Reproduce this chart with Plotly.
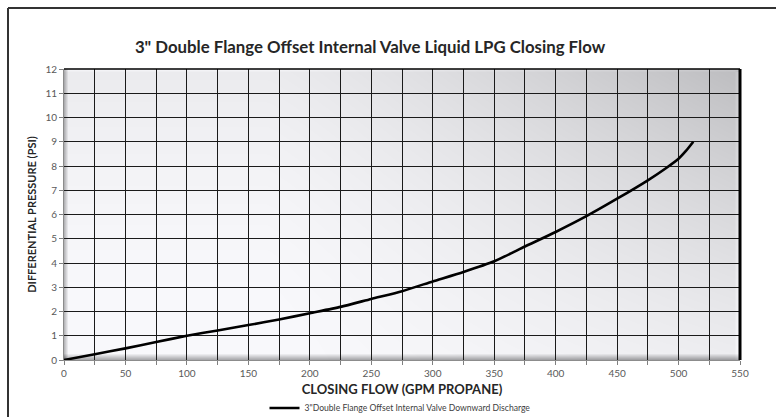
import base64, zlib, struct
import plotly.graph_objects as go

# ---- data ----
flow_gpm = [0, 25, 50, 75, 100, 125, 150, 175, 200, 225, 250, 275, 300, 325, 350, 375, 400, 425, 450, 475, 490, 500, 506, 512]
diff_psi = [0, 0.24, 0.48, 0.74, 1.0, 1.22, 1.44, 1.67, 1.93, 2.19, 2.52, 2.84, 3.24, 3.63, 4.07, 4.68, 5.28, 5.93, 6.65, 7.41, 7.92, 8.3, 8.62, 9.0]
series_name = '3"Double Flange Offset Internal Valve Downward Discharge'
chart_title = '3" Double Flange Offset Internal Valve Liquid LPG Closing Flow'
x_title = "CLOSING FLOW (GPM PROPANE)"
y_title = "DIFFERENTIAL PRESSURE (PSI)"
x_ticks = list(range(0, 551, 50))
y_ticks = list(range(0, 13, 1))

# ---- layout geometry ----
FIG_W, FIG_H = 776, 417
ML, MR, MT, MB = 64, 36, 69, 57
PW, PH = FIG_W - ML - MR, FIG_H - MT - MB


def px_x(p):
    return (p - ML) / PW


def px_y(p):
    return (FIG_H - MB - p) / PH


# ---- background gradient image (decorative) ----
def make_png(w, h):
    rows = []
    for j in range(h):
        v = 1 - j / (h - 1)
        row = bytearray()
        for i in range(w):
            u = i / (w - 1)
            a = max(0.0, (u - 0.3) / 0.7) ** 1.2
            L = 249 - 46 * a * (0.25 + 0.75 * v) - 14 * v * v
            db = h - 1 - j
            if db < 6:
                L -= (6 - db) * 13
            if i < 4:
                L -= (4 - i) * 16
            if j < 3:
                L = min(255, L + (3 - j) * 4)
            if w - 1 - i < 5 and j > 2:
                L = min(255, L + (5 - (w - 1 - i)) * 4)
            L = max(0, min(255, L))
            row += bytes((int(L), int(L), int(min(255, L + 3))))
        rows.append(b"\x00" + bytes(row))
    raw = b"".join(rows)

    def chunk(tag, data):
        return struct.pack(">I", len(data)) + tag + data + struct.pack(">I", zlib.crc32(tag + data) & 0xFFFFFFFF)

    png = b"\x89PNG\r\n\x1a\n"
    png += chunk(b"IHDR", struct.pack(">IIBBBBB", w, h, 8, 2, 0, 0, 0))
    png += chunk(b"IDAT", zlib.compress(raw, 9))
    png += chunk(b"IEND", b"")
    return "data:image/png;base64," + base64.b64encode(png).decode()


bg_src = make_png(PW, PH)

FONT = "Lato"

fig = go.Figure()
fig.add_trace(go.Scatter(
    x=flow_gpm, y=diff_psi, mode="lines", name=series_name,
    line=dict(color="black", width=2.6, shape="spline", smoothing=0.6),
    showlegend=True,
))

fig.update_layout(
    width=FIG_W, height=FIG_H,
    margin=dict(l=ML, r=MR, t=MT, b=MB, autoexpand=False),
    paper_bgcolor="white",
    plot_bgcolor="rgba(0,0,0,0)",
    font=dict(family=FONT, size=10, color="#595959"),
    title=dict(
        text=chart_title, x=370 / FIG_W, xref="container", xanchor="center",
        y=1 - 47 / FIG_H, yref="container", yanchor="middle",
        font=dict(family=FONT, size=16.8, color="#262626", weight="bold"),
    ),
    xaxis=dict(
        range=[0, 550], tickmode="array", tickvals=x_ticks,
        ticks="outside", ticklen=4, tickcolor="#808080",
        minor=dict(dtick=25, ticks="outside", ticklen=4, tickcolor="#808080",
                   showgrid=True, gridcolor="#1a1a1a", gridwidth=1),
        showgrid=True, gridcolor="#1a1a1a", gridwidth=1,
        showline=True, linecolor="#8c8c8c", linewidth=1,
        zeroline=False, fixedrange=True,
        tickfont=dict(family=FONT, size=10, color="#595959"),
        title=dict(text=x_title, standoff=6,
                   font=dict(family=FONT, size=13, color="#262626", weight="bold")),
    ),
    yaxis=dict(
        range=[0, 12], tickmode="array", tickvals=y_ticks,
        ticks="outside", ticklen=4, tickcolor="#808080",
        showgrid=True, gridcolor="#1a1a1a", gridwidth=1,
        showline=True, linecolor="#8c8c8c", linewidth=1,
        zeroline=False, fixedrange=True,
        tickfont=dict(family=FONT, size=10, color="#595959"),
        title=dict(text=y_title, standoff=6,
                   font=dict(family=FONT, size=11, color="#262626", weight="bold")),
    ),
    legend=dict(
        orientation="h", x=px_x(400), xanchor="center",
        y=px_y(408), yanchor="middle",
        font=dict(family=FONT, size=8.6, color="#404040"),
        bgcolor="rgba(0,0,0,0)", itemwidth=30,
    ),
    images=[dict(
        source=bg_src, xref="paper", yref="paper", x=0, y=1,
        sizex=1, sizey=1, xanchor="left", yanchor="top",
        sizing="stretch", layer="below",
    )],
    shapes=[
        # plot frame: black top and right edges
        dict(type="line", xref="paper", yref="paper", x0=0, x1=1, y0=1, y1=1,
             line=dict(color="black", width=1.5), layer="above"),
        dict(type="line", xref="paper", yref="paper", x0=1, x1=1, y0=0, y1=1,
             line=dict(color="black", width=3), layer="above"),
        # outer chart border (left and top)
        dict(type="line", xref="paper", yref="paper", x0=px_x(8), x1=px_x(8),
             y0=px_y(8), y1=px_y(FIG_H + 10), line=dict(color="#333333", width=2)),
        dict(type="line", xref="paper", yref="paper", x0=px_x(8), x1=px_x(FIG_W + 10),
             y0=px_y(8), y1=px_y(8), line=dict(color="#333333", width=2)),
    ],
)

fig.write_html("out.html", config={"displayModeBar": False},
               post_script="document.body.style.margin='0';")
